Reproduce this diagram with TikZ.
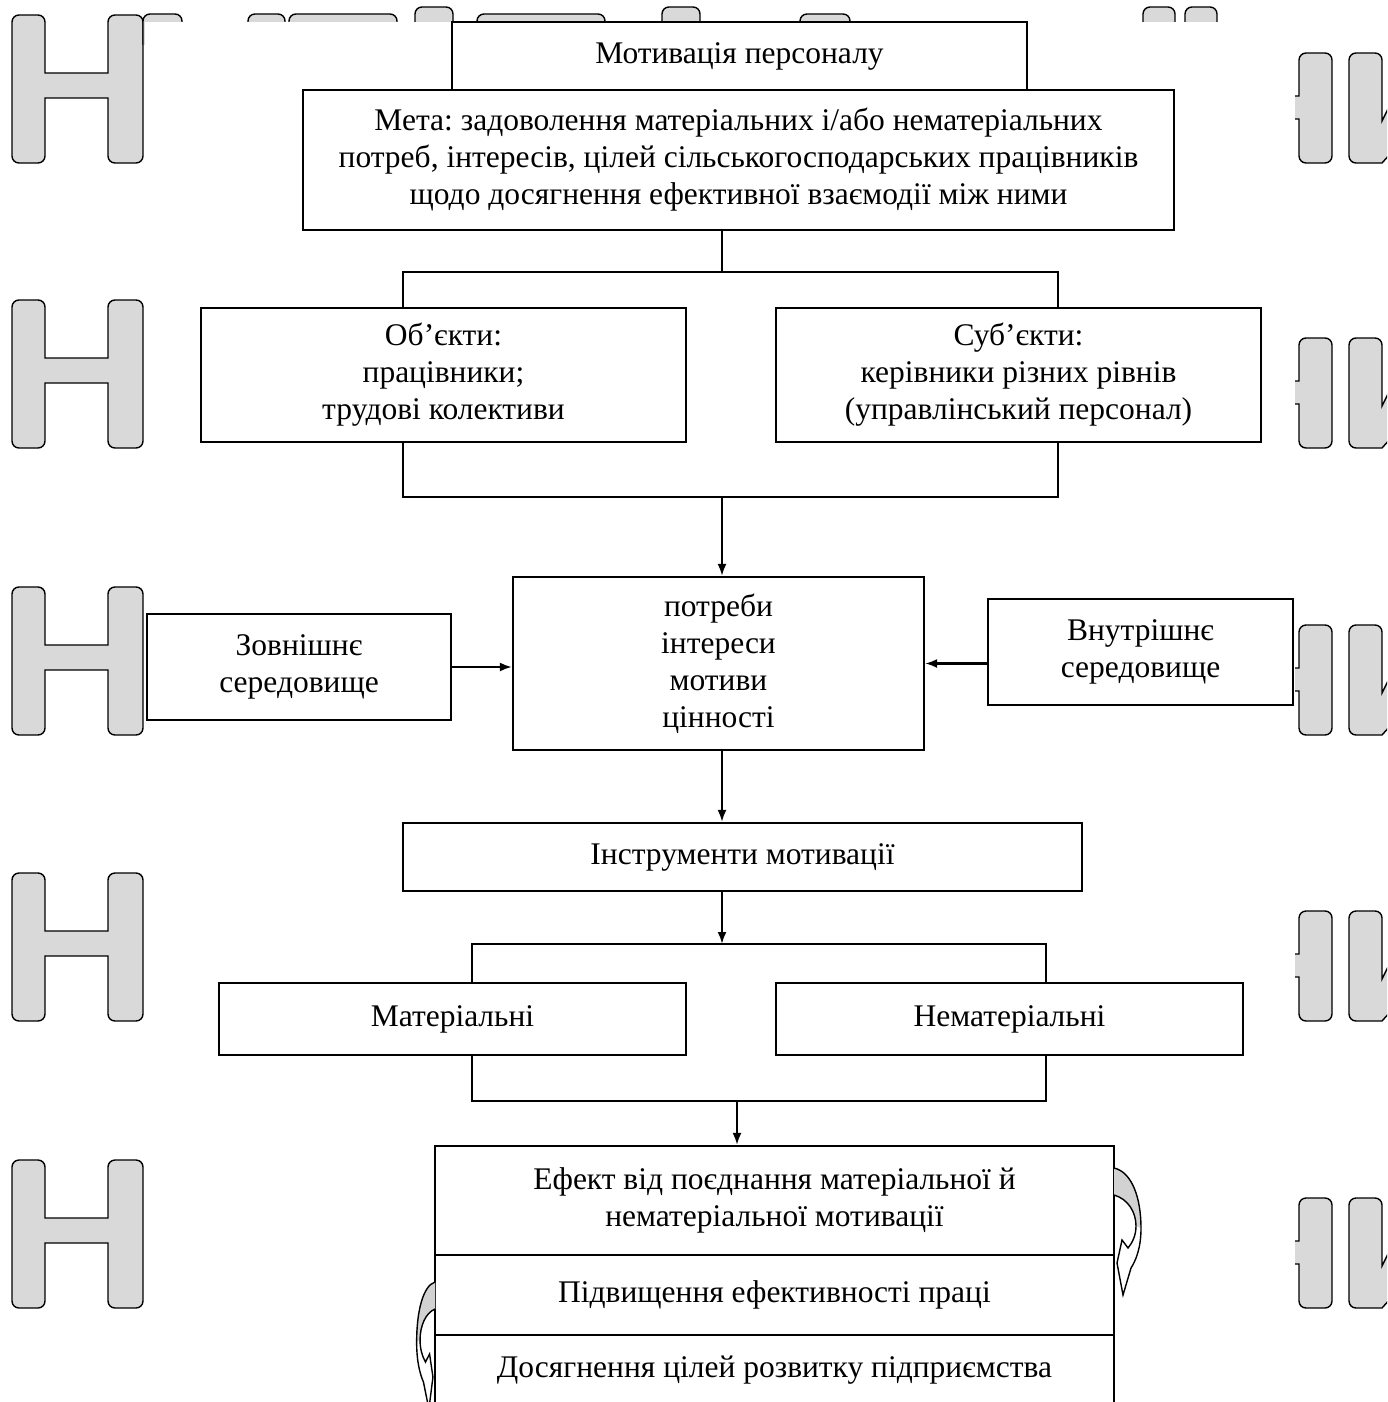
\documentclass[tikz,border=0pt]{standalone}
\usepackage{fontspec}
\setmainfont{Liberation Serif}
\usetikzlibrary{arrows.meta,calc}
\begin{document}
\frenchspacing
\begin{tikzpicture}[x=1pt,y=-1pt,
  box/.style={draw, line width=2.2pt, fill=white, align=center, inner sep=0pt,
    font=\fontsize{31.5}{37}\selectfont},
  conn/.style={line width=2.2pt},
  arr/.style={line width=2.2pt, -{Latex[length=12pt,width=9pt]}},
  wm/.style={draw=black, line width=1.4pt, fill=gray!30},
  ribline/.style={draw=black, line width=1.4pt},
  ribback/.style={fill=gray!35}]
\useasboundingbox (0,0) rectangle (1387,1402);
% ---------- watermark ----------
\begin{scope}
\clip (0,0) rectangle (1387,1402);
\foreach \t in {15,300,587,873,1160}{
  \begin{scope}[shift={(0,\t)}]
    \draw[wm] (12,74) [rounded corners=7] -- (12,0) -- (45,0) [sharp corners] -- (45,58) -- (108,58)
      [rounded corners=7] -- (108,0) -- (143,0) -- (143,148) -- (108,148) [sharp corners] -- (108,83)
      -- (45,83) [rounded corners=7] -- (45,148) -- (12,148) -- cycle;
    \draw[wm] (1240,81) -- (1299,81) [rounded corners=7] -- (1299,38) -- (1332,38) -- (1332,148)
      -- (1299,148) [sharp corners] -- (1299,104) -- (1240,104) -- cycle;
    \draw[wm] (1349,90) [rounded corners=7] -- (1349,38) -- (1382,38) [sharp corners]
      -- (1382,106) -- (1400,70) -- (1400,128) -- (1382,148) [rounded corners=7] -- (1349,148) -- (1349,90);
  \end{scope}
}
\foreach \a/\b/\t in {143/182/14,248/285/14,289/397/14,415/453/7,477/605/14,662/700/7,800/850/14,1143/1175/7,1185/1217/7}{
  \draw[wm, rounded corners=7] (\a,45) -- (\a,\t) -- (\b,\t) -- (\b,45);
}
\fill[white] (145,22) rectangle (1295,1402);
\end{scope}
% ---------- brackets behind boxes ----------
\coordinate (b1tl) at (403,272);
\coordinate (b1br) at (1058,497);
\coordinate (b2tl) at (472,944);
\coordinate (b2br) at (1046,1101);
\coordinate (j1) at (722,272);
\coordinate (j2) at (722,497);
\coordinate (j3) at (737,1101);
\draw[conn] (b1tl) rectangle (b1br);
\draw[conn] (b2tl) rectangle (b2br);
% ---------- nodes ----------
\node[box, minimum width=575pt, minimum height=68pt] (mot) at (739.5,56) {Мотивація персоналу};
\node[box, minimum width=871pt, minimum height=140pt] (meta) at (738.5,160)
  {Мета: задоволення матеріальних і/або нематеріальних\\потреб, інтересів, цілей сільськогосподарських працівників\\щодо досягнення ефективної взаємодії між ними};
\node[box, minimum width=485pt, minimum height=134pt] (obj) at (443.5,375) {Об’єкти:\\працівники;\\трудові колективи};
\node[box, minimum width=485pt, minimum height=134pt] (sub) at (1018.5,375) {Суб’єкти:\\керівники різних рівнів\\(управлінський персонал)};
\node[box, minimum width=411pt, minimum height=173pt] (cen) at (718.5,663.5) {потреби\\інтереси\\мотиви\\цінності};
\node[box, minimum width=304pt, minimum height=106pt] (zov) at (299,667) {Зовнішнє\\середовище};
\node[box, minimum width=305pt, minimum height=106pt] (vnut) at (1140.5,652) {Внутрішнє\\середовище};
\node[box, minimum width=679pt, minimum height=68pt] (instr) at (742.5,857) {Інструменти мотивації};
\node[box, minimum width=467pt, minimum height=72pt] (mat) at (452.5,1019) {Матеріальні};
\node[box, minimum width=467pt, minimum height=72pt] (nemat) at (1009.5,1019) {Нематеріальні};
\node[box, minimum width=679pt, minimum height=109pt] (ef) at (774.5,1200.5) {Ефект від поєднання матеріальної й\\нематеріальної мотивації};
\node[box, minimum width=679pt, minimum height=80pt] (pid) at (774.5,1295) {Підвищення ефективності праці};
\node[box, minimum width=679pt, minimum height=71pt] (dos) at (774.5,1370.5) {Досягнення цілей розвитку підприємства};
% ---------- connectors ----------
\draw[conn] (j1 |- meta.south) -- (j1);
\draw[arr] (j2) -- (j2 |- cen.north);
\draw[arr] (zov.east) -- (zov.east -| cen.west);
\draw[arr] (vnut.west |- cen.west) -- (cen.east);
\draw[arr] (j2 |- cen.south) -- (j2 |- instr.north);
\draw[arr] (j2 |- instr.south) -- (j2 |- b2tl);
\draw[arr] (j3) -- (j3 |- ef.north);
% ---------- curved arrows ----------
\foreach \sx/\sy/\xs in {1114/1168/1, 435/1282/-0.68}{
  \begin{scope}[shift={(\sx,\sy)}, xscale=\xs]
    \fill[white] (0,0) .. controls (18,4) and (27,30) .. (27,60) .. controls (27,80) and (22,92) .. (17,100)
      -- (9,127) -- (3,95) -- (8,72) -- (14,80) .. controls (18,75) and (22,68) .. (22,58)
      .. controls (22,44) and (14,31) .. (0,27) -- cycle;
    \fill[ribback] (0,0) .. controls (18,4) and (27,30) .. (27,60) -- (22,58)
      .. controls (22,44) and (14,31) .. (0,27) -- cycle;
    \draw[ribline] (0,0) .. controls (18,4) and (27,30) .. (27,60) .. controls (27,80) and (22,92) .. (17,100)
      -- (9,127) -- (3,95) -- (8,72) -- (14,80) .. controls (18,75) and (22,68) .. (22,58)
      .. controls (22,44) and (14,31) .. (0,27);
  \end{scope}
}
\end{tikzpicture}
\end{document}
